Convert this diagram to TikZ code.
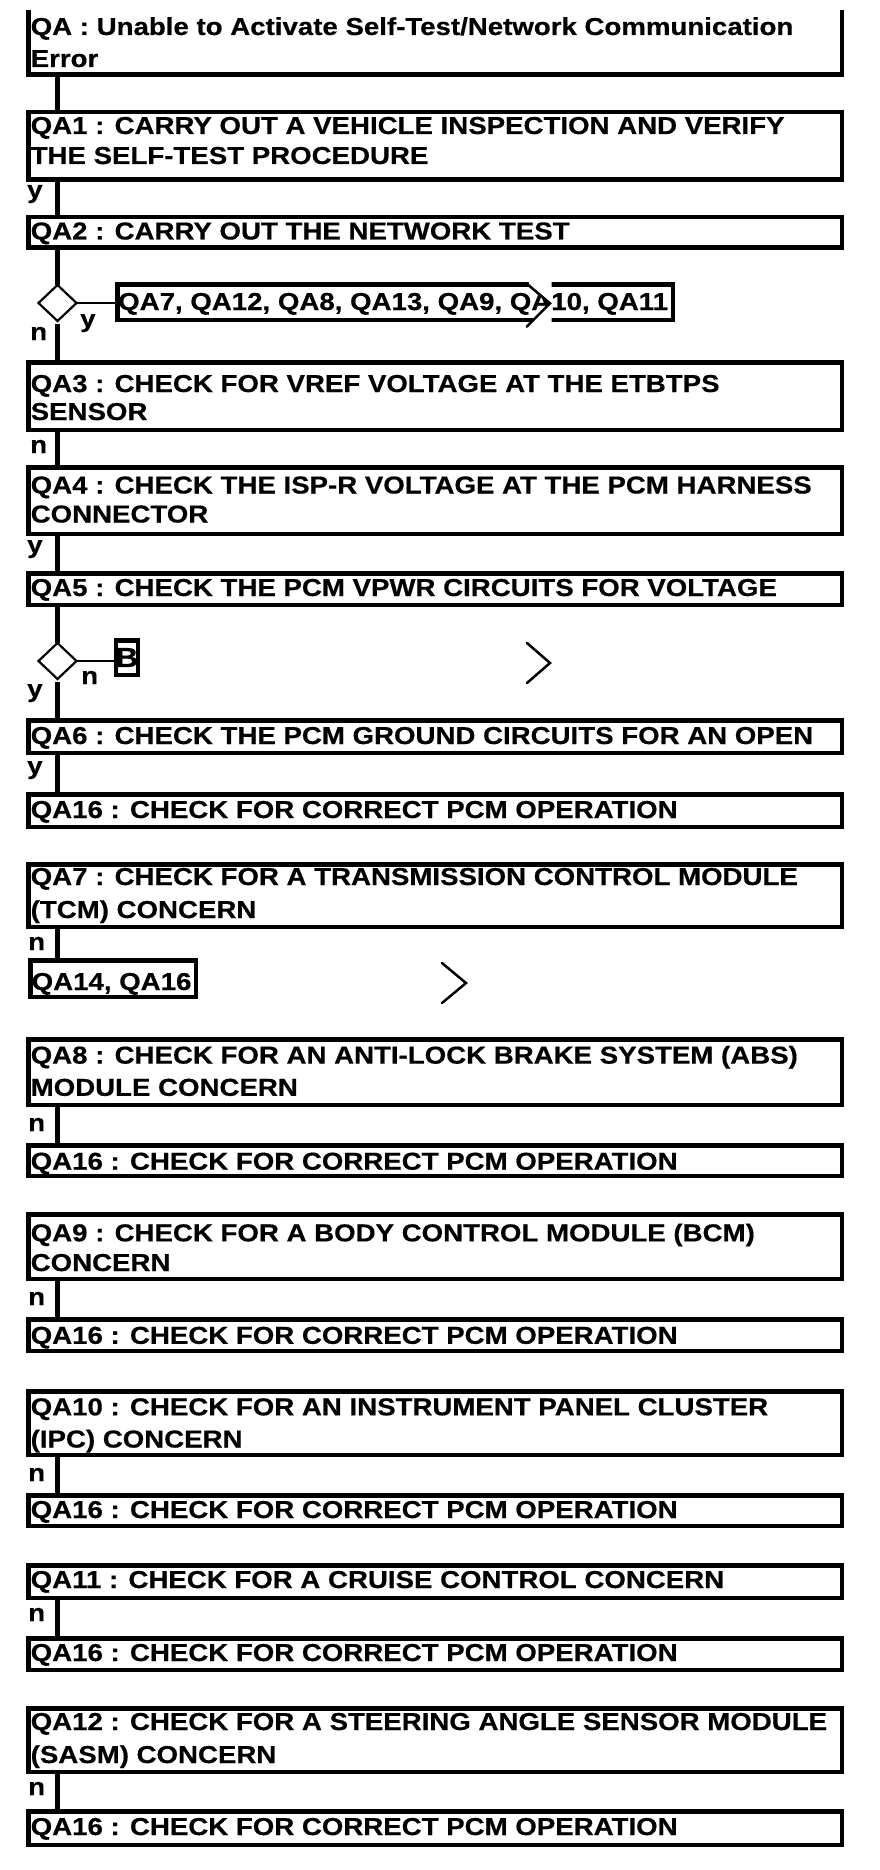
\documentclass[tikz,border=0pt]{standalone}
\usepackage{fontspec}
\newfontfamily\qafont{Liberation Sans Bold}[FakeStretch=1.128,FakeBold=0.5]
\usetikzlibrary{shapes.geometric}
\newcommand\myfont{\qafont\fontsize{24.5}{28}\selectfont}
\newcommand\bigfont{\qafont\fontsize{27.5}{30}\selectfont}
\tikzset{
  mainbox/.style={draw, rectangle, line width=4.5pt, minimum width=813.5pt, inner sep=0pt},
  smallbox/.style={draw, rectangle, line width=4.5pt, inner sep=0pt},
  txt/.style={anchor=base west, inner sep=0pt, font=\myfont},
  lbl/.style={anchor=base west, inner sep=0pt, font=\myfont},
  conn/.style={line width=4.5pt},
  thinline/.style={line width=2.3pt},
  decision/.style={diamond, draw, line width=2.2pt, minimum width=38pt, minimum height=36pt, inner sep=0pt, outer sep=0pt},
  chev/.style={line width=2.5pt, line cap=round},
  hdr/.style={line width=4.5pt},
}
\newcommand\qbox[3]{%
  \pgfmathsetmacro\myqc{(#2+#3)/2}%
  \pgfmathsetmacro\myqh{#3-#2-4.5}%
  \node[mainbox, minimum height=\myqh pt] (#1) at (435,\myqc) {};}
\newcommand\qtext[3]{\node[txt] (#1) at (30.5,#2) {#3};}
\begin{document}
\begin{tikzpicture}[x=1pt,y=-1pt]
\useasboundingbox[fill=white] (0,0) rectangle (880,1870);
\coordinate (spine) at (57.5,0);

% header box (open at top)
\node[minimum width=813.5pt, minimum height=64.75pt, inner sep=0pt, outer sep=0pt] (qa) at (435,42.375) {};
\draw[hdr] (qa.north west) -- (qa.south west) -- (qa.south east) -- (qa.north east);
\qtext{qat1}{35}{QA : Unable to Activate Self-Test/Network Communication}
\qtext{qat2}{67}{Error}

\qbox{qa1}{110}{182}
\qtext{qa1t1}{134}{QA1 : CARRY OUT A VEHICLE INSPECTION AND VERIFY}
\qtext{qa1t2}{164}{THE SELF-TEST PROCEDURE}

\qbox{qa2}{215}{250}
\qtext{qa2t}{239.5}{QA2 : CARRY OUT THE NETWORK TEST}

\node[decision] (d1) at (57.5,303) {};
\node[smallbox, minimum width=555.5pt, minimum height=35.5pt] (list) at (395,302) {};
\node[txt] (listt) at (118,310) {QA7, QA12, QA8, QA13, QA9, QA10, QA11};
\fill[white] (529,278) -- (529,285) -- (550,303.3) -- (527,327) -- (551.5,327) -- (551.5,278) -- cycle;
\draw[chev] (528.3,285) -- (550,303.3) -- (526.7,326.7);

\qbox{qa3}{360}{432}
\qtext{qa3t1}{392}{QA3 : CHECK FOR VREF VOLTAGE AT THE ETBTPS}
\qtext{qa3t2}{420}{SENSOR}

\qbox{qa4}{465}{536}
\qtext{qa4t1}{493.5}{QA4 : CHECK THE ISP-R VOLTAGE AT THE PCM HARNESS}
\qtext{qa4t2}{522.5}{CONNECTOR}

\qbox{qa5}{571}{607}
\qtext{qa5t}{596}{QA5 : CHECK THE PCM VPWR CIRCUITS FOR VOLTAGE}

\node[decision] (d2) at (57.5,661) {};
\node[smallbox, minimum width=21.5pt, minimum height=34.5pt, font=\bigfont] (bbox) at (127,657.5) {B};
\draw[chev] (527,643) -- (550,663) -- (527,683);

\qbox{qa6}{718}{755}
\qtext{qa6t}{744}{QA6 : CHECK THE PCM GROUND CIRCUITS FOR AN OPEN}

\qbox{qa16a}{792}{829}
\qtext{qa16at}{818}{QA16 : CHECK FOR CORRECT PCM OPERATION}

\qbox{qa7}{862}{929}
\qtext{qa7t1}{885}{QA7 : CHECK FOR A TRANSMISSION CONTROL MODULE}
\qtext{qa7t2}{918}{(TCM) CONCERN}

\node[smallbox, minimum width=165.5pt, minimum height=36.5pt] (qa14) at (113,978.5) {};
\node[txt] (qa14t) at (31.5,990) {QA14, QA16};
\draw[chev] (442,963) -- (466,983) -- (442,1003);

\qbox{qa8}{1037}{1107}
\qtext{qa8t1}{1063.6}{QA8 : CHECK FOR AN ANTI-LOCK BRAKE SYSTEM (ABS)}
\qtext{qa8t2}{1095.8}{MODULE CONCERN}

\qbox{qa16b}{1143}{1178}
\qtext{qa16bt}{1169.7}{QA16 : CHECK FOR CORRECT PCM OPERATION}

\qbox{qa9}{1212}{1281}
\qtext{qa9t1}{1241.3}{QA9 : CHECK FOR A BODY CONTROL MODULE (BCM)}
\qtext{qa9t2}{1271}{CONCERN}

\qbox{qa16c}{1317}{1353}
\qtext{qa16ct}{1343.8}{QA16 : CHECK FOR CORRECT PCM OPERATION}

\qbox{qa10}{1389}{1457}
\qtext{qa10t1}{1415.3}{QA10 : CHECK FOR AN INSTRUMENT PANEL CLUSTER}
\qtext{qa10t2}{1447.5}{(IPC) CONCERN}

\qbox{qa16d}{1493}{1528}
\qtext{qa16dt}{1518}{QA16 : CHECK FOR CORRECT PCM OPERATION}

\qbox{qa11}{1563}{1600}
\qtext{qa11t}{1588}{QA11 : CHECK FOR A CRUISE CONTROL CONCERN}

\qbox{qa16e}{1636}{1672}
\qtext{qa16et}{1661}{QA16 : CHECK FOR CORRECT PCM OPERATION}

\qbox{qa12}{1706}{1774}
\qtext{qa12t1}{1730}{QA12 : CHECK FOR A STEERING ANGLE SENSOR MODULE}
\qtext{qa12t2}{1763}{(SASM) CONCERN}

\qbox{qa16f}{1809}{1847}
\qtext{qa16ft}{1835}{QA16 : CHECK FOR CORRECT PCM OPERATION}

% connectors
\draw[conn] (qa.south -| spine) -- (qa1.north -| spine);
\draw[conn] (qa1.south -| spine) -- (qa2.north -| spine);
\draw[conn] (qa2.south -| spine) -- (d1.north);
\draw[conn] (d1.south) ++(0,3) -- (qa3.north -| spine);
\draw[thinline] (d1.east) -- (d1.east -| list.west);
\draw[conn] (qa3.south -| spine) -- (qa4.north -| spine);
\draw[conn] (qa4.south -| spine) -- (qa5.north -| spine);
\draw[conn] (qa5.south -| spine) -- (d2.north);
\draw[conn] (d2.south) ++(0,3) -- (qa6.north -| spine);
\draw[thinline] (d2.east) -- (d2.east -| bbox.west);
\draw[conn] (qa6.south -| spine) -- (qa16a.north -| spine);
\draw[conn] (qa7.south -| spine) -- (qa14.north -| spine);
\draw[conn] (qa8.south -| spine) -- (qa16b.north -| spine);
\draw[conn] (qa9.south -| spine) -- (qa16c.north -| spine);
\draw[conn] (qa10.south -| spine) -- (qa16d.north -| spine);
\draw[conn] (qa11.south -| spine) -- (qa16e.north -| spine);
\draw[conn] (qa12.south -| spine) -- (qa16f.north -| spine);

% labels
\node[lbl] (l1) at (27,198) {y};
\node[lbl] (l2) at (80,327) {y};
\node[lbl] (l3) at (30,340) {n};
\node[lbl] (l4) at (30,453) {n};
\node[lbl] (l5) at (27,553) {y};
\node[lbl] (l6) at (81,684) {n};
\node[lbl] (l7) at (27,697) {y};
\node[lbl] (l8) at (27,774) {y};
\node[lbl] (l9) at (28,950) {n};
\node[lbl] (l10) at (28,1131) {n};
\node[lbl] (l11) at (28,1305) {n};
\node[lbl] (l12) at (28,1481) {n};
\node[lbl] (l13) at (28,1621) {n};
\node[lbl] (l14) at (28,1795) {n};
\end{tikzpicture}
\end{document}
